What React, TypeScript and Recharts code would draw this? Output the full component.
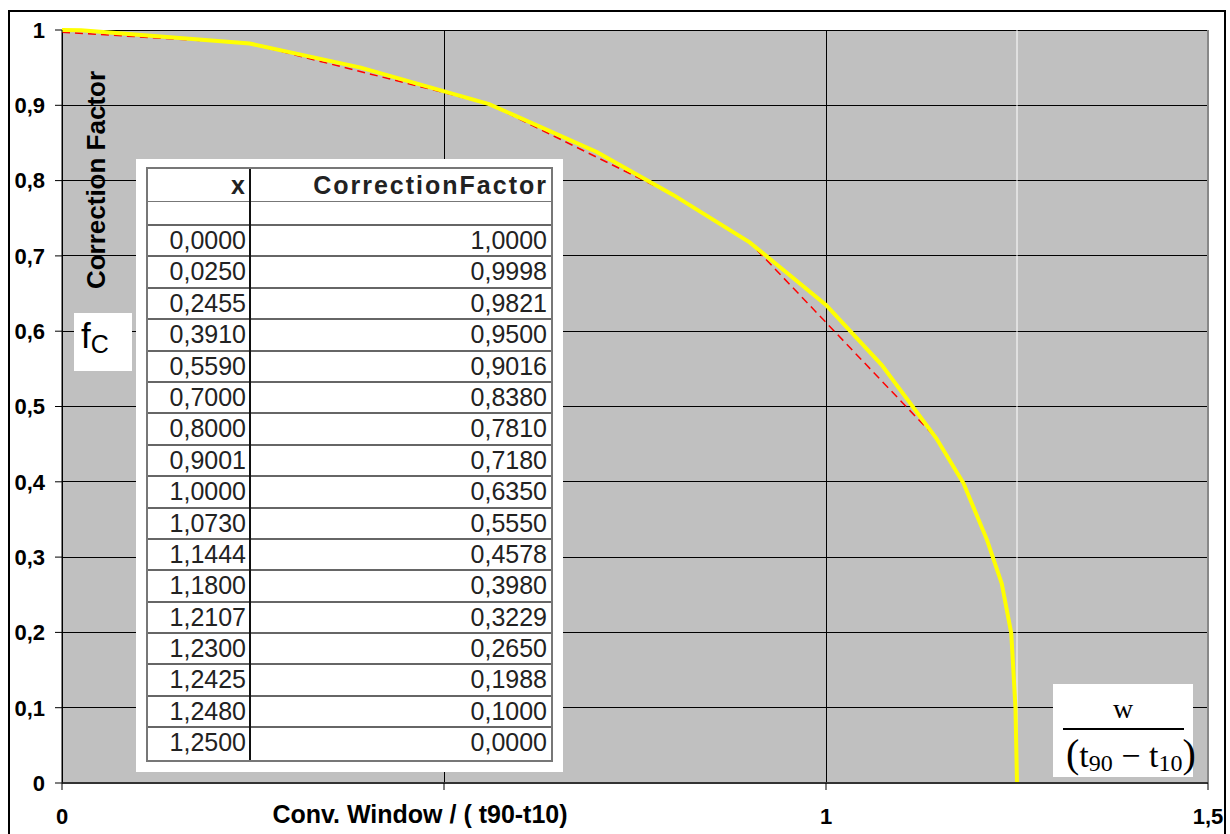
import React from "react";
import { CartesianGrid, Line, LineChart, ReferenceLine, XAxis, YAxis } from "recharts";

// tabulated correction factor vs. conv. window / (t90-t10)
const windowValues = [0, 0.025, 0.2455, 0.391, 0.559, 0.7, 0.8, 0.9001, 1.0, 1.073, 1.1444, 1.18, 1.2107, 1.23, 1.2425, 1.248, 1.25];
const factorValues = [1.0, 0.9998, 0.9821, 0.95, 0.9016, 0.838, 0.781, 0.718, 0.635, 0.555, 0.4578, 0.398, 0.3229, 0.265, 0.1988, 0.1, 0.0];

// coarser approximation (dashed red)
const approxWindow = [0, 0.2455, 0.559, 0.8, 0.9001, 1.1444, 1.18, 1.2107, 1.23, 1.2425, 1.248, 1.25];
const approxFactor = [0.997, 0.9821, 0.9016, 0.781, 0.718, 0.4578, 0.398, 0.3229, 0.265, 0.1988, 0.1, 0.0];

const xTicks = [0, 0.5, 1, 1.5];
const yTicks = [0, 0.1, 0.2, 0.3, 0.4, 0.5, 0.6, 0.7, 0.8, 0.9, 1];
const hiddenXTick = 0.5;
const windowLimit = 1.25;

const SANS = "'Liberation Sans', Arial, sans-serif";
const SERIF = "'Liberation Serif', 'Times New Roman', serif";

const tablePoints = windowValues.map((x, i) => ({ x, y: factorValues[i] }));
const approxPoints = approxWindow.map((x, i) => ({ x, y: approxFactor[i] }));

const comma = (v: number) => String(v).replace(".", ",");
const fixed4 = (v: number) => v.toFixed(4).replace(".", ",");

const XTick = (props: any) => {
  const { x, y, payload } = props;
  if (payload.value === hiddenXTick) return <g />;
  return (
    <text x={x} y={y} dy="0.71em" textAnchor="middle" fill="#000" fontSize={22} fontWeight={700} fontFamily={SANS}>
      {comma(payload.value)}
    </text>
  );
};

const ROW_H = 31.4;

const ValueTable = () => (
  <div style={{ position: "absolute", left: 136, top: 159, width: 427, height: 613, background: "#fff" }}>
    <div
      style={{
        position: "absolute",
        left: 10,
        top: 8,
        width: 407,
        height: 595,
        border: "2px solid #777",
        boxSizing: "border-box",
        fontFamily: SANS,
        color: "#222",
      }}
    >
      <div style={{ position: "absolute", left: 101, top: 0, width: 2, height: "100%", background: "#111" }} />
      <div style={{ display: "flex", height: 33, borderBottom: "1px solid #777", boxSizing: "border-box", fontWeight: 700, fontSize: 25, lineHeight: "32px" }}>
        <div style={{ width: 101, textAlign: "right", paddingRight: 4, boxSizing: "border-box" }}>x</div>
        <div style={{ flex: 1, textAlign: "right", paddingRight: 3, letterSpacing: 2, boxSizing: "border-box" }}>CorrectionFactor</div>
      </div>
      <div style={{ height: 24, borderBottom: "2px solid #666", boxSizing: "border-box" }} />
      {windowValues.map((x, i) => (
        <div
          key={i}
          style={{
            display: "flex",
            height: ROW_H,
            borderBottom: i < windowValues.length - 1 ? "2px solid #666" : "none",
            boxSizing: "border-box",
            fontSize: 25,
            lineHeight: `${ROW_H - 2}px`,
          }}
        >
          <div style={{ width: 101, textAlign: "right", paddingRight: 3, boxSizing: "border-box" }}>{fixed4(x)}</div>
          <div style={{ flex: 1, textAlign: "right", paddingRight: 4, boxSizing: "border-box" }}>{fixed4(factorValues[i])}</div>
        </div>
      ))}
    </div>
  </div>
);

const Annotations = () => (
  <svg width={1230} height={834} style={{ position: "absolute", left: 0, top: 0, pointerEvents: "none" }}>
    {/* axis titles */}
    <text transform="rotate(-90)" x={-180} y={105} textAnchor="middle" fontSize={26} fontWeight={700} fontFamily={SANS} fill="#000">
      Correction Factor
    </text>
    <text x={420} y={823} textAnchor="middle" fontSize={25} fontWeight={700} fontFamily={SANS} fill="#000">
      Conv. Window / ( t90-t10)
    </text>

    {/* f_C symbol */}
    <rect x={74} y={313} width={58} height={58} fill="#fff" />
    <text x={81} y={348} fontFamily={SANS} fill="#000">
      <tspan fontSize={35}>f</tspan>
      <tspan fontSize={25} dy={5}>C</tspan>
    </text>

    {/* w / (t90 - t10) */}
    <rect x={1053} y={684} width={140} height={93} fill="#fff" />
    <text x={1123} y={718} textAnchor="middle" fontSize={28} fontFamily={SERIF} fill="#000">
      w
    </text>
    <line x1={1063} x2={1184} y1={729} y2={729} stroke="#000" strokeWidth={2} />
    <text x={1066} y={767} fontSize={34} fontFamily={SERIF} fill="#000">
      <tspan fontSize={40}>(</tspan>
      <tspan>t</tspan>
      <tspan fontSize={24} dy={4}>90</tspan>
      <tspan dy={-4}> − t</tspan>
      <tspan fontSize={24} dy={4}>10</tspan>
      <tspan dy={-4} fontSize={40}>)</tspan>
    </text>
  </svg>
);

export default function App() {
  return (
    <div style={{ position: "absolute", left: 0, top: 0, width: 1230, height: 834, overflow: "hidden", background: "#fff" }}>
      <LineChart width={1230} height={834} margin={{ top: 30, right: 22, bottom: 0, left: 0 }}>
        <CartesianGrid fill="#c0c0c0" stroke="#000" strokeWidth={1} shapeRendering="crispEdges" />
        <XAxis
          type="number"
          dataKey="x"
          domain={[0, 1.5]}
          ticks={xTicks}
          interval={0}
          allowDataOverflow
          height={51}
          tickSize={7}
          tickMargin={18}
          axisLine={{ stroke: "#333", strokeWidth: 2 }}
          tickLine={{ stroke: "#000" }}
          tick={<XTick />}
        />
        <YAxis
          type="number"
          dataKey="y"
          domain={[0, 1]}
          ticks={yTicks}
          interval={0}
          width={62}
          tickSize={7}
          tickMargin={10}
          axisLine={{ stroke: "#000" }}
          tickLine={{ stroke: "#000" }}
          tick={{ fill: "#000", fontSize: 22, fontWeight: 700, fontFamily: SANS }}
          tickFormatter={comma}
        />
        <ReferenceLine x={windowLimit} stroke="#fff" strokeWidth={1} />
        <ReferenceLine x={1.5} stroke="#888" strokeWidth={2} />
        <Line
          data={approxPoints}
          dataKey="y"
          type="linear"
          stroke="#ff0000"
          strokeWidth={1.5}
          strokeDasharray="8 5"
          dot={false}
          isAnimationActive={false}
        />
        <Line
          data={tablePoints}
          dataKey="y"
          type="linear"
          stroke="#ffff00"
          strokeWidth={4}
          dot={false}
          isAnimationActive={false}
        />
      </LineChart>
      <ValueTable />
      <Annotations />
      <div
        style={{
          position: "absolute",
          left: 8,
          top: 10,
          width: 1218,
          height: 900,
          border: "2px solid #000",
          boxSizing: "border-box",
          pointerEvents: "none",
        }}
      />
    </div>
  );
}
